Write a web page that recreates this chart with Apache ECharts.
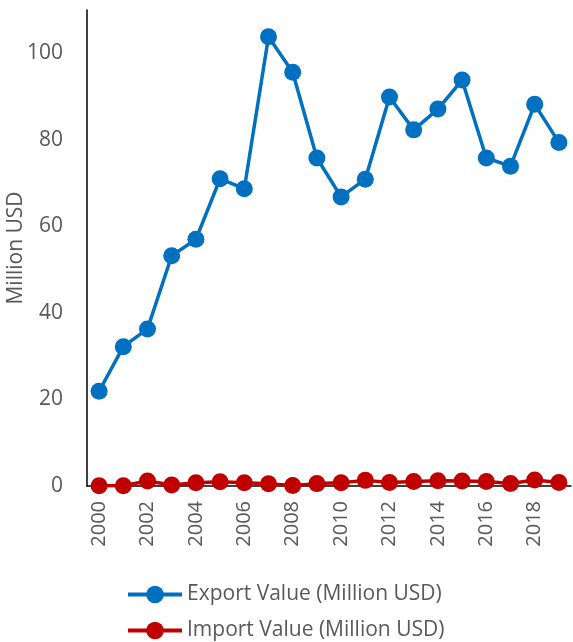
<!DOCTYPE html>
<html><head><meta charset="utf-8">
<script src="https://cdn.jsdelivr.net/npm/echarts@6/dist/echarts.min.js"></script>
<style>html,body{margin:0;padding:0;background:#fff}#c{width:573px;height:642px}</style>
</head><body><div id="c"></div>
<script>
var years = ['2000','2001','2002','2003','2004','2005','2006','2007','2008','2009','2010','2011','2012','2013','2014','2015','2016','2017','2018','2019'];
var exportValues = [21.9,32.2,36.3,53.2,57.0,71.0,68.7,103.8,95.6,75.8,66.8,70.9,89.9,82.3,87.1,93.8,75.8,73.9,88.2,79.4];
var importValues = [0.05,0.05,1.15,0.25,0.75,1.0,0.75,0.5,0.1,0.55,0.75,1.3,0.8,1.05,1.2,1.15,1.05,0.6,1.4,0.8];
var seriesNames = ['Export Value (Million USD)','Import Value (Million USD)'];
var yAxisTitle = 'Million USD';

var font = 'Open Sans';
var chart = echarts.init(document.getElementById('c'));
chart.setOption({
  animation:false,
  grid:{left:87,right:2,top:10,bottom:156,containLabel:false,outerBoundsMode:'none'},
  legend:{
    orient:'vertical', left:126, top:584, height:60, padding:0, itemGap:15, itemWidth:54, itemHeight:22,
    lineStyle:{width:4},
    textStyle:{fontFamily:font,fontSize:21,color:'#595959'},
    data:seriesNames
  },
  xAxis:{
    type:'category', data:years, boundaryGap:true,
    axisLine:{lineStyle:{color:'#000',width:1.5}},
    axisTick:{show:false},
    axisLabel:{interval:1, rotate:90, fontFamily:font, fontSize:20, color:'#595959', margin:15}
  },
  yAxis:{
    type:'value', min:0, max:110, interval:20,
    name:yAxisTitle, nameLocation:'middle', nameGap:60, nameRotate:90, nameMoveOverlap:false,
    nameTextStyle:{fontFamily:font,fontSize:21,color:'#595959'},
    axisLine:{show:true,lineStyle:{color:'#000',width:1.5}},
    axisTick:{show:false},
    splitLine:{show:false},
    axisLabel:{showMaxLabel:false, fontFamily:font, fontSize:21, color:'#595959', margin:24}
  },
  series:[
    {name:seriesNames[0], type:'line', data:exportValues, symbol:'circle', symbolSize:17, showAllSymbol:true,
     lineStyle:{color:'#0070C0',width:3.5}, itemStyle:{color:'#0070C0'}},
    {name:seriesNames[1], type:'line', data:importValues, symbol:'circle', symbolSize:17, showAllSymbol:true,
     lineStyle:{color:'#C00000',width:3.5}, itemStyle:{color:'#C00000'}}
  ]
});
</script></body></html>
